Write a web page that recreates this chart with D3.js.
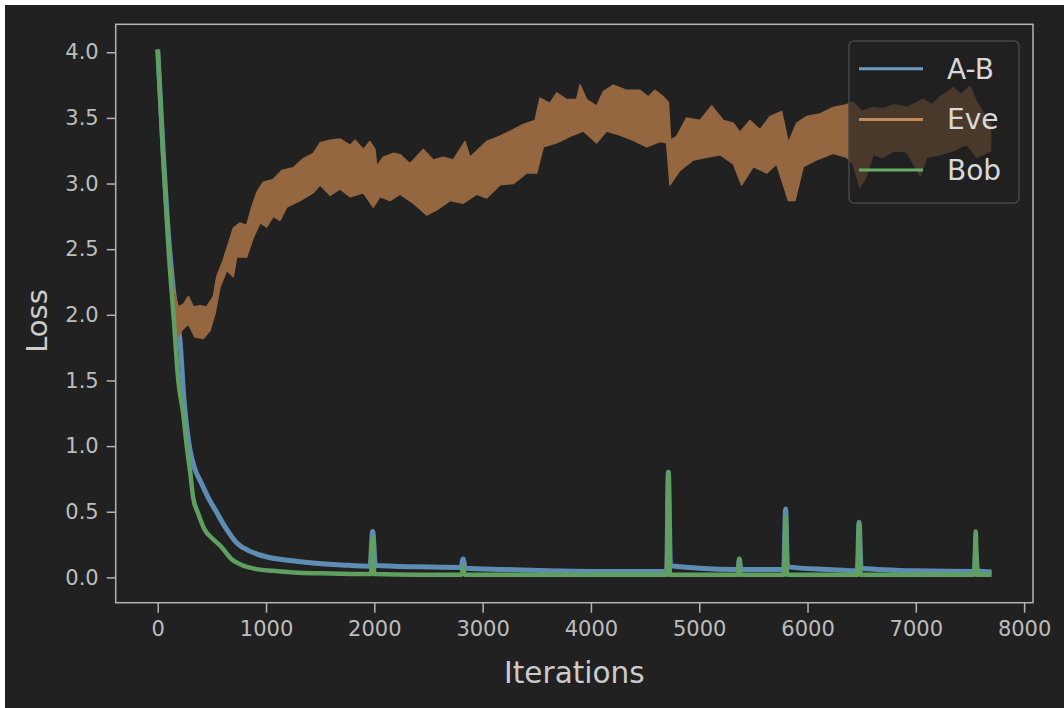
<!DOCTYPE html>
<html>
<head>
<meta charset="utf-8">
<script src="https://cdn.jsdelivr.net/npm/d3@7"></script>
<style>
  body { margin: 0; background: #ffffff; }
  svg { display: block; }
  text { font-family: "DejaVu Sans", sans-serif; }
</style>
</head>
<body>
<svg id="chart" width="1064" height="708"></svg>
<script>
// A-B loss (iteration, loss)
const abIter = [0, 50, 100, 150, 206, 243, 298, 345, 390, 465, 548, 622, 733, 850, 1010, 1200, 1435, 1700, 1960, 1985, 2010, 2400, 2800, 2820, 2840, 3200, 3600, 4000, 4400, 4700, 4715, 4735, 5000, 5360, 5370, 5385, 5780, 5798, 5815, 6200, 6460, 6476, 6495, 7000, 7540, 7553, 7570, 7700];
const abLoss = [4.02, 3.25, 2.6, 2.15, 1.8, 1.35, 0.97, 0.82, 0.74, 0.61, 0.49, 0.385, 0.26, 0.2, 0.155, 0.13, 0.11, 0.095, 0.085, 0.35, 0.09, 0.08, 0.075, 0.14, 0.07, 0.06, 0.05, 0.045, 0.045, 0.045, 0.8, 0.09, 0.07, 0.06, 0.14, 0.06, 0.06, 0.52, 0.08, 0.06, 0.05, 0.42, 0.07, 0.05, 0.045, 0.2, 0.05, 0.04];

// Bob loss
const bobIter = [0, 50, 100, 150, 190, 235, 268, 300, 327, 372, 436, 500, 590, 680, 760, 900, 1065, 1300, 1600, 1970, 1985, 2000, 2400, 2805, 2820, 2835, 3500, 4700, 4715, 4730, 5360, 5370, 5380, 5785, 5798, 5812, 6462, 6476, 6490, 7540, 7553, 7565, 7700];
const bobLoss = [4.02, 3.2, 2.5, 1.95, 1.5, 1.25, 1.0, 0.8, 0.61, 0.49, 0.36, 0.3, 0.23, 0.14, 0.1, 0.065, 0.05, 0.035, 0.03, 0.025, 0.3, 0.025, 0.02, 0.02, 0.08, 0.02, 0.02, 0.02, 0.8, 0.02, 0.02, 0.14, 0.02, 0.02, 0.46, 0.02, 0.02, 0.41, 0.02, 0.02, 0.35, 0.02, 0.02];

// Eve loss is very noisy: kept as the upper and lower edge of its band
const eveHighIter = [0, 60, 110, 150, 190, 236, 283, 329, 391, 452, 514, 545, 606, 652, 698, 760, 821, 868, 914, 975, 1067, 1145, 1252, 1345, 1437, 1499, 1591, 1683, 1776, 1822, 1899, 1960, 2006, 2022, 2083, 2175, 2237, 2329, 2452, 2545, 2637, 2729, 2837, 2883, 3037, 3160, 3284, 3376, 3484, 3530, 3622, 3684, 3776, 3868, 3899, 3961, 4053, 4115, 4207, 4330, 4453, 4530, 4592, 4669, 4715, 4736, 4792, 4884, 5007, 5115, 5223, 5315, 5377, 5469, 5561, 5653, 5761, 5823, 5900, 5992, 6115, 6238, 6361, 6420, 6500, 6600, 6700, 6800, 6920, 7066, 7150, 7223, 7300, 7343, 7420, 7500, 7560, 7620, 7690];
const eveHigh = [4.02, 3.1, 2.5, 2.18, 2.06, 2.08, 2.14, 2.06, 2.07, 2.06, 2.14, 2.29, 2.42, 2.54, 2.66, 2.7, 2.68, 2.82, 2.93, 3.01, 3.03, 3.1, 3.12, 3.19, 3.23, 3.31, 3.33, 3.34, 3.29, 3.33, 3.26, 3.32, 3.26, 3.13, 3.2, 3.23, 3.22, 3.15, 3.26, 3.18, 3.2, 3.18, 3.32, 3.2, 3.32, 3.36, 3.41, 3.45, 3.48, 3.65, 3.61, 3.69, 3.64, 3.64, 3.75, 3.64, 3.59, 3.7, 3.75, 3.71, 3.71, 3.66, 3.71, 3.66, 3.62, 3.33, 3.36, 3.5, 3.48, 3.59, 3.48, 3.46, 3.39, 3.48, 3.41, 3.51, 3.55, 3.31, 3.46, 3.51, 3.53, 3.58, 3.6, 3.62, 3.55, 3.58, 3.57, 3.6, 3.58, 3.64, 3.6, 3.66, 3.7, 3.73, 3.68, 3.74, 3.62, 3.54, 3.45];
const eveLowIter = [0, 60, 110, 150, 175, 221, 283, 344, 421, 483, 529, 575, 637, 698, 729, 821, 883, 945, 1006, 1067, 1129, 1191, 1314, 1437, 1499, 1591, 1683, 1776, 1899, 1991, 2052, 2145, 2237, 2360, 2483, 2576, 2699, 2822, 2945, 3037, 3160, 3284, 3407, 3499, 3561, 3684, 3807, 3930, 4053, 4145, 4268, 4392, 4515, 4638, 4699, 4730, 4822, 4946, 5069, 5192, 5315, 5392, 5500, 5623, 5715, 5823, 5884, 5961, 6084, 6238, 6361, 6420, 6484, 6540, 6604, 6696, 6800, 6918, 7040, 7100, 7223, 7343, 7472, 7560, 7620, 7690];
const eveLow = [3.98, 3.02, 2.38, 2.0, 1.81, 1.88, 1.93, 1.83, 1.82, 1.88, 2.01, 2.21, 2.34, 2.29, 2.44, 2.44, 2.59, 2.7, 2.67, 2.75, 2.72, 2.82, 2.87, 2.93, 2.99, 2.91, 2.96, 2.9, 2.93, 2.82, 2.9, 2.87, 2.92, 2.85, 2.76, 2.8, 2.87, 2.85, 2.92, 2.89, 2.99, 3.0, 3.08, 3.08, 3.28, 3.31, 3.36, 3.4, 3.31, 3.4, 3.37, 3.33, 3.28, 3.32, 3.31, 2.99, 3.1, 3.18, 3.2, 3.22, 3.15, 2.99, 3.13, 3.08, 3.15, 2.87, 2.87, 3.13, 3.18, 3.23, 3.2, 3.15, 2.97, 3.05, 3.22, 3.2, 3.25, 3.24, 3.06, 3.2, 3.22, 3.25, 3.3, 3.2, 3.22, 3.25];

const xTicks = [0, 1000, 2000, 3000, 4000, 5000, 6000, 7000, 8000];
const yTicks = [0, 0.5, 1, 1.5, 2, 2.5, 3, 3.5, 4];

const seriesNames = ['A-B', 'Eve', 'Bob'];

const dims = {
  width: 1064,
  height: 708,
  margin: { left: 115.7, right: 31, top: 24.3, bottom: 105.3 }
};

const colors = {
  bg: '#212121',
  spine: '#b4b4b4',
  tick: '#bdbdbd',
  label: '#cccccc',
  ab: '#5d8db2',
  eve: '#946740',
  bob: '#5f9f5f',
  abLegend: '#6a9cc4',
  eveLegend: '#c4895a',
  bobLegend: '#67ad67'
};

const svg = d3.select('#chart');

// figure background, offset by the thin white strip at top/left
svg.append('rect')
  .attr('x', 5).attr('y', 5)
  .attr('width', dims.width - 5).attr('height', dims.height - 5)
  .attr('fill', colors.bg);

const plotW = dims.width - dims.margin.left - dims.margin.right;
const plotH = dims.height - dims.margin.top - dims.margin.bottom;

const xScale = d3.scaleLinear()
  .domain([-388, 8082])
  .range([0, plotW]);
const yScale = d3.scaleLinear()
  .domain([-0.193, 4.213])
  .range([plotH, 0]);

const g = svg.append('g')
  .attr('transform', `translate(${dims.margin.left}, ${dims.margin.top})`);

g.append('clipPath').attr('id', 'clip')
  .append('rect').attr('width', plotW).attr('height', plotH);

const plot = g.append('g').attr('clip-path', 'url(#clip)');

const line = d3.line()
  .x(d => xScale(d[0]))
  .y(d => yScale(d[1]))
  .curve(d3.curveMonotoneX);

const bandLine = d3.line()
  .x(d => xScale(d[0]))
  .y(d => yScale(d[1]));

const abData = abIter.map((it, i) => [it, abLoss[i]]);
const bobData = bobIter.map((it, i) => [it, bobLoss[i]]);
// band outline: upper edge forwards, lower edge backwards
const eveBand = eveHighIter.map((it, i) => [it, eveHigh[i]])
  .concat(eveLowIter.map((it, i) => [it, eveLow[i]]).reverse());

// plotting order: A-B, Eve, Bob
plot.append('path')
  .datum(abData)
  .attr('d', line)
  .attr('fill', 'none')
  .attr('stroke', colors.ab)
  .attr('stroke-width', 5)
  .attr('stroke-linejoin', 'round');

plot.append('path')
  .datum(eveBand)
  .attr('d', d => bandLine(d) + 'Z')
  .attr('fill', colors.eve)
  .attr('stroke', colors.eve)
  .attr('stroke-width', 1.5)
  .attr('stroke-linejoin', 'round');

plot.append('path')
  .datum(bobData)
  .attr('d', line)
  .attr('fill', 'none')
  .attr('stroke', colors.bob)
  .attr('stroke-width', 4.5)
  .attr('stroke-linejoin', 'round');

// Axes
const xAxis = d3.axisBottom(xScale)
  .tickValues(xTicks)
  .tickSize(10)
  .tickPadding(8)
  .tickFormat(d3.format('d'));
const yAxis = d3.axisLeft(yScale)
  .tickValues(yTicks)
  .tickSize(9)
  .tickPadding(8)
  .tickFormat(d3.format('.1f'));

const xg = g.append('g')
  .attr('transform', `translate(0, ${plotH})`)
  .call(xAxis);
const yg = g.append('g').call(yAxis);

[xg, yg].forEach(ax => {
  ax.select('.domain').remove();
  ax.selectAll('line').attr('stroke', colors.spine).attr('stroke-width', 1.5);
  ax.selectAll('text')
    .attr('fill', colors.tick)
    .style('font-size', '21px');
});

// spines
g.append('rect')
  .attr('width', plotW)
  .attr('height', plotH)
  .attr('fill', 'none')
  .attr('stroke', colors.spine)
  .attr('stroke-width', 1.5);

// Axis labels
svg.append('text')
  .attr('x', dims.margin.left + plotW / 2)
  .attr('y', 683)
  .attr('text-anchor', 'middle')
  .attr('fill', colors.label)
  .style('font-size', '29.5px')
  .text('Iterations');

svg.append('text')
  .attr('transform', 'translate(47, 321) rotate(-90)')
  .attr('text-anchor', 'middle')
  .attr('fill', colors.label)
  .style('font-size', '29px')
  .text('Loss');

// Legend
const legend = svg.append('g').attr('transform', 'translate(849, 41)');
legend.append('rect')
  .attr('width', 170)
  .attr('height', 162)
  .attr('rx', 5)
  .attr('fill', colors.bg)
  .attr('fill-opacity', 0.65)
  .attr('stroke', '#454545')
  .attr('stroke-width', 1.5);

const legendColors = [colors.abLegend, colors.eveLegend, colors.bobLegend];
const items = legend.selectAll('g.item')
  .data(seriesNames)
  .enter()
  .append('g')
  .attr('class', 'item')
  .attr('transform', (d, i) => `translate(0, ${27.7 + i * 50.7})`);

items.append('line')
  .attr('x1', 10).attr('x2', 74)
  .attr('stroke', (d, i) => legendColors[i])
  .attr('stroke-width', 3);

items.append('text')
  .attr('x', 98)
  .attr('dy', '0.36em')
  .attr('fill', '#d8d8d8')
  .style('font-size', '28px')
  .text(d => d);
</script>
</body>
</html>
